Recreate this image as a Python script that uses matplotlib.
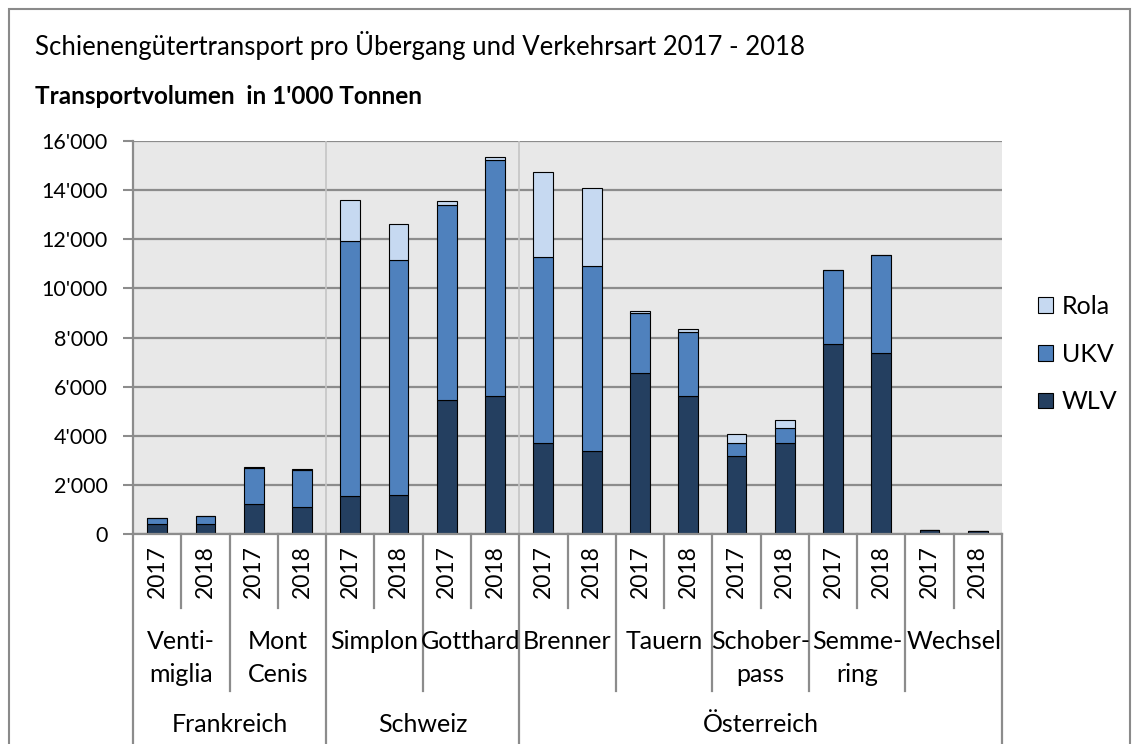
import matplotlib
matplotlib.use("Agg")
import matplotlib.pyplot as plt
import matplotlib.transforms as mtransforms
from matplotlib.patches import Rectangle
from matplotlib.lines import Line2D
import numpy as np

plt.rcParams['font.family'] = ['Lato', 'DejaVu Sans']

countries = ["Frankreich", "Schweiz", "Österreich"]
country_span = [4, 4, 10]
passes = ["Venti-\nmiglia", "Mont\nCenis", "Simplon", "Gotthard", "Brenner",
          "Tauern", "Schober-\npass", "Semme-\nring", "Wechsel"]
years = ["2017", "2018"]

wlv = [400, 400, 1230, 1090, 1560, 1600, 5470, 5620, 3700, 3380,
       6570, 5620, 3180, 3700, 7720, 7360, 150, 110]
ukv = [270, 325, 1440, 1500, 10380, 9560, 7940, 9610, 7580, 7530,
       2430, 2620, 530, 610, 3010, 4010, 0, 0]
rola = [0, 0, 70, 50, 1670, 1470, 160, 110, 3470, 3180,
        70, 100, 370, 330, 0, 0, 0, 0]

series_names = ["WLV", "UKV", "Rola"]
colors = ["#243F60", "#4F81BD", "#C6D9F1"]

W, H = 1137, 744
fig = plt.figure(figsize=(W / 100, H / 100), dpi=100)

# outer chart border
fig.add_artist(Rectangle((9 / W, -0.05), (1130 - 9) / W, 1.05 - 9 / H,
                         transform=fig.transFigure, fill=False,
                         edgecolor="#8a8a8a", linewidth=1.5))

x0, x1, y0, y1 = 133, 1002, 534, 141
ax = fig.add_axes([x0 / W, 1 - y0 / H, (x1 - x0) / W, (y0 - y1) / H])
ax.set_facecolor("#E8E8E8")

n = len(wlv)
x = np.arange(n) + 0.5
bw = 0.41
bottom = np.zeros(n)
handles = []
for vals, name, c in zip([wlv, ukv, rola], series_names, colors):
    v = np.array(vals, dtype=float)
    b = ax.bar(x, v, bw, bottom=bottom, color=c, edgecolor="black",
               linewidth=0.8, label=name, zorder=3)
    handles.append(b)
    bottom += v

ax.set_xlim(0, n)
ax.set_ylim(0, 16000)
yt = np.arange(0, 16001, 2000)
ax.set_yticks(yt)
ax.set_yticklabels(["0" if t == 0 else f"{t // 1000}'{t % 1000:03d}" for t in yt],
                   fontsize=15.5)
ax.tick_params(axis="y", length=7, width=1.5, color="#8c8c8c", pad=11)
ax.set_xticks([])
ax.yaxis.grid(True, color="#8c8c8c", linewidth=1.6, zorder=1)
ax.set_axisbelow(True)
for s in ["top", "right"]:
    ax.spines[s].set_visible(False)
for s in ["left", "bottom"]:
    ax.spines[s].set_color("#8c8c8c")
    ax.spines[s].set_linewidth(1.6)
    ax.spines[s].set_zorder(4)

# separators between countries inside plot
trans = mtransforms.blended_transform_factory(ax.transData, ax.transAxes)
cum = np.cumsum([0] + country_span)
for b in cum[1:-1]:
    ax.axvline(b, color="#c4c4c4", linewidth=1.2, zorder=2)

# hierarchical category axis
ph = (y0 - y1)
def ay(py):
    return -(py - y0) / ph

lc = "#8c8c8c"
lw = 1.6
for i in range(n + 1):
    if i in cum:
        yb = ay(760)
    elif i % 2 == 0:
        yb = ay(691)
    else:
        yb = ay(608)
    ax.add_line(Line2D([i, i], [0, yb], transform=trans, color=lc,
                       linewidth=lw, clip_on=False))

for i in range(n):
    ax.text(i + 0.5, ay(572), years[i % 2], transform=trans, rotation=90,
            ha="center", va="center", fontsize=16.5)

for j, p in enumerate(passes):
    ax.text(2 * j + 1, ay(630), p, transform=trans, ha="center", va="top",
            fontsize=18, linespacing=1.5)

for k, cn in enumerate(countries):
    ax.text((cum[k] + cum[k + 1]) / 2, ay(725), cn, transform=trans,
            ha="center", va="center", fontsize=18)

# titles
fig.text(35 / W, 1 - 45 / H, "Schienengütertransport pro Übergang und Verkehrsart 2017 - 2018",
         ha="left", va="center", fontsize=18.5)
fig.text(35 / W, 1 - 97 / H, "Transportvolumen  in 1'000 Tonnen",
         ha="left", va="center", fontsize=17.5, fontweight="bold")

# legend
leg = fig.legend(handles[::-1], series_names[::-1], loc="center left",
                 bbox_to_anchor=(1038 / W, 1 - 354 / H), frameon=False,
                 fontsize=18, handlelength=0.6, handleheight=0.6,
                 handletextpad=0.35, labelspacing=0.99, borderaxespad=0,
                 borderpad=0)
for h in leg.legend_handles:
    h.set_edgecolor("black")
    h.set_linewidth(0.8)

fig.savefig("out.png", dpi=100)
